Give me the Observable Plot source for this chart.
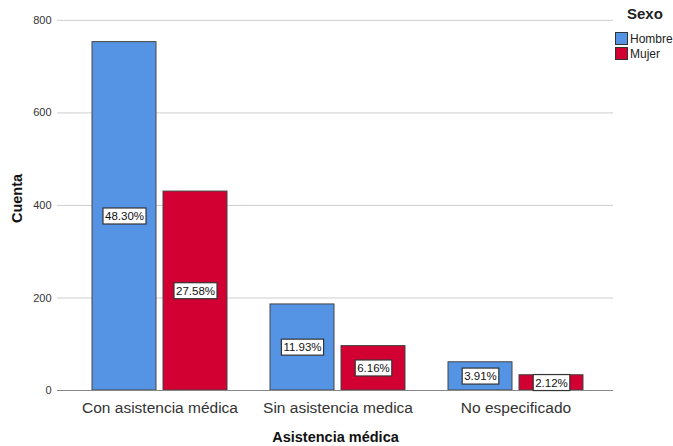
<!DOCTYPE html>
<html>
<head>
<meta charset="utf-8">
<script src="https://cdn.jsdelivr.net/npm/d3@7"></script>
<script src="https://cdn.jsdelivr.net/npm/@observablehq/plot@0.6"></script>
<style>
  html, body { margin: 0; padding: 0; background: #fff; }
  #wrap { position: relative; width: 673px; height: 446px; overflow: hidden; font-family: Arial, "Liberation Sans", sans-serif; }
  #legend { position: absolute; left: 615px; top: 5px; font-family: Arial, "Liberation Sans", sans-serif; white-space: nowrap; }
  #legend .title { font-weight: bold; font-size: 15px; color: #222; margin-left: 12px; margin-bottom: 9px; }
  #legend .item { display: flex; align-items: center; font-size: 12px; color: #222; height: 15px; }
  #legend .sw { width: 11px; height: 11px; border: 1px solid #333; margin-right: 2px; }
</style>
</head>
<body>
<div id="wrap"></div>
<script>
const categories = ["Con asistencia médica", "Sin asistencia medica", "No especificado"];
const series = ["Hombre", "Mujer"];
const hombre = [753, 186, 61];
const mujer = [430, 96, 33];
const pctHombre = ["48.30%", "11.93%", "3.91%"];
const pctMujer = ["27.58%", "6.16%", "2.12%"];
const colors = ["#5594e4", "#d20032"];
const yTicks = [0, 200, 400, 600, 800];

const data = [];
categories.forEach((c, i) => {
  data.push({cat: c, sexo: "Hombre", n: hombre[i], pct: pctHombre[i]});
  data.push({cat: c, sexo: "Mujer", n: mujer[i], pct: pctMujer[i]});
});

const bw = 135, gap = 7;
const half = (bw + gap) / 2;
const off = bw / 2 - (bw - gap) / 4;

const chart = Plot.plot({
  width: 673,
  height: 446,
  marginLeft: 57,
  marginRight: 60,
  marginTop: 6,
  marginBottom: 56,
  style: {fontFamily: "Arial, 'Liberation Sans', sans-serif", background: "#fff"},
  x: {domain: categories, range: [57, 618], paddingInner: 43/178, paddingOuter: 35/178, axis: null},
  y: {domain: [0, 830], axis: null},
  color: {domain: series, range: colors},
  marks: [
    Plot.ruleY(yTicks.filter(d => d > 0), {stroke: "#cfcfcf", strokeWidth: 1}),
    Plot.barY(data.filter(d => d.sexo === "Hombre"), {x: "cat", y1: 0, y2: "n", fill: "sexo", stroke: "#444", strokeWidth: 1, insetRight: half}),
    Plot.barY(data.filter(d => d.sexo === "Mujer"), {x: "cat", y1: 0, y2: "n", fill: "sexo", stroke: "#444", strokeWidth: 1, insetLeft: half}),
    Plot.ruleY([0], {stroke: "#888", strokeWidth: 1}),
    Plot.ruleX([0], {frameAnchor: "left", y1: 0, y2: 830, stroke: "#888", strokeWidth: 1}),
    Plot.axisY({ticks: yTicks, tickSize: 0, tickPadding: 6, fontSize: 11, fill: "#333", label: null}),
    Plot.axisX({tickSize: 0, tickPadding: 11, fontSize: 15.5, fill: "#333", label: null}),
    Plot.text(data.filter(d => d.sexo === "Hombre"), {x: "cat", y: d => d.n / 2, text: "pct", dx: -off, fontSize: 11.5, fill: "#111", className: "pctlabel"}),
    Plot.text(data.filter(d => d.sexo === "Mujer"), {x: "cat", y: d => d.n / 2, text: "pct", dx: off, fontSize: 11.5, fill: "#111", className: "pctlabel"}),
    Plot.text(["Cuenta"], {frameAnchor: "left", textAnchor: "middle", dx: -40, rotate: -90, fontSize: 14.5, fontWeight: "bold", fill: "#111"}),
    Plot.text(["Asistencia médica"], {frameAnchor: "bottom", dy: 51, fontSize: 14.5, fontWeight: "bold", fill: "#111"})
  ]
});

const wrap = document.getElementById("wrap");
wrap.appendChild(chart);

// Boxes behind the percentage labels
chart.querySelectorAll("g.pctlabel").forEach(g => {
  g.querySelectorAll("text").forEach(t => {
    const b = t.getBBox();
    const r = document.createElementNS("http://www.w3.org/2000/svg", "rect");
    r.setAttribute("x", b.x - 2);
    r.setAttribute("y", b.y - 2);
    r.setAttribute("width", b.width + 4);
    r.setAttribute("height", b.height + 4);
    r.setAttribute("fill", "#fff");
    r.setAttribute("stroke", "#333");
    r.setAttribute("stroke-width", 1.2);
    const tr = t.getAttribute("transform");
    if (tr) r.setAttribute("transform", tr);
    g.insertBefore(r, t);
  });
});

// Legend
const lg = document.createElement("div");
lg.id = "legend";
let html = '<div class="title">Sexo</div>';
series.forEach((s, i) => {
  html += `<div class="item"><span class="sw" style="background:${colors[i]}"></span>${s}</div>`;
});
lg.innerHTML = html;
wrap.appendChild(lg);
</script>
</body>
</html>
